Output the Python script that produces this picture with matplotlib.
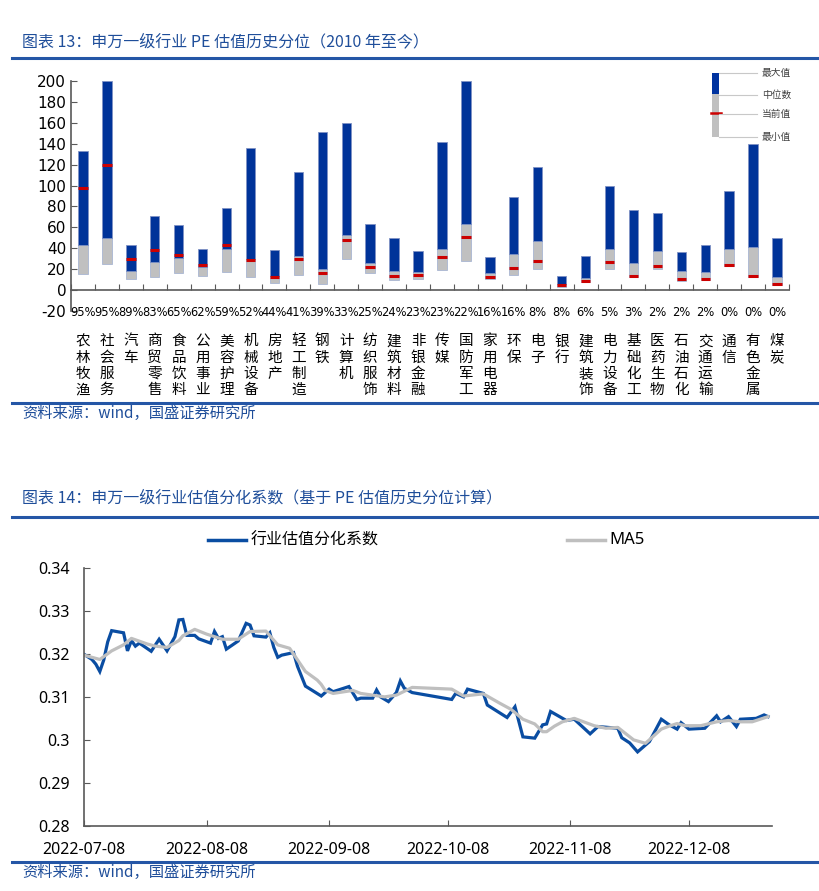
import matplotlib
matplotlib.use('Agg')
import matplotlib.pyplot as plt
import matplotlib.dates as mdates
from matplotlib.patches import Rectangle
from matplotlib.lines import Line2D
import numpy as np
import pandas as pd

plt.rcParams['font.family'] = ['Noto Sans CJK SC', 'DejaVu Sans']
plt.rcParams['axes.unicode_minus'] = False

# ---------------- 图表13 数据 ----------------
industries = ['农林牧渔', '社会服务', '汽车', '商贸零售', '食品饮料', '公用事业', '美容护理',
              '机械设备', '房地产', '轻工制造', '钢铁', '计算机', '纺织服饰', '建筑材料',
              '非银金融', '传媒', '国防军工', '家用电器', '环保', '电子', '银行', '建筑装饰',
              '电力设备', '基础化工', '医药生物', '石油石化', '交通运输', '通信', '有色金属', '煤炭']
pct_labels = ['95%', '95%', '89%', '83%', '65%', '62%', '59%', '52%', '44%', '41%', '39%',
              '33%', '25%', '24%', '23%', '23%', '22%', '16%', '16%', '8%', '8%', '6%', '5%',
              '3%', '2%', '2%', '2%', '0%', '0%', '0%']
pe_max = [133, 200, 43, 71, 62, 39.5, 79, 136, 38, 113, 151, 160, 63, 50, 37.5,
          142, 200, 32, 89, 118, 13.5, 33, 99.5, 76.5, 74, 36, 43, 95, 140, 50]
pe_median = [43, 49.5, 18.5, 26.5, 30.6, 22.3, 39.2, 29.7, 13.4, 32.9, 20, 52.3, 26.2, 18.5, 17.2,
             39.5, 62.8, 16, 35, 46.9, 6, 11.8, 39.2, 25.8, 37.3, 17.9, 17.2, 39.2, 41.5, 12.1]
pe_current = [98, 120, 30, 38, 33.8, 24, 43.4, 28.7, 12.4, 30, 16, 47.8, 22.3, 13.4, 14.4,
              31.6, 50.7, 12.8, 21, 28, 4.5, 8.6, 26.5, 13.4, 22.7, 10.2, 10.8, 23.6, 13.4, 5.7]
pe_min = [15, 25, 10.5, 12.8, 16.6, 13.7, 16.9, 12.8, 7, 14.4, 5.7, 29.3, 16.6, 9.9, 10.8,
          19.4, 28, 10.2, 14.7, 20, 3.2, 7.3, 20, 12.5, 20, 8.9, 9.9, 22.6, 12.8, 4.8]

# ---------------- 图表14 数据 ----------------
coef_dates = ['2022-07-08', '2022-07-10', '2022-07-11', '2022-07-12', '2022-07-13', '2022-07-14',
              '2022-07-15', '2022-07-18', '2022-07-19', '2022-07-20', '2022-07-21', '2022-07-22',
              '2022-07-25', '2022-07-27', '2022-07-29', '2022-07-31', '2022-08-01', '2022-08-02',
              '2022-08-03', '2022-08-05', '2022-08-06', '2022-08-09', '2022-08-10', '2022-08-11',
              '2022-08-12', '2022-08-13', '2022-08-16', '2022-08-18', '2022-08-19', '2022-08-20',
              '2022-08-23', '2022-08-24', '2022-08-25', '2022-08-26', '2022-08-27', '2022-08-30',
              '2022-08-31', '2022-09-02', '2022-09-06', '2022-09-07', '2022-09-08', '2022-09-09',
              '2022-09-13', '2022-09-15', '2022-09-16', '2022-09-19', '2022-09-20', '2022-09-21',
              '2022-09-23', '2022-09-25', '2022-09-26', '2022-09-27', '2022-09-29', '2022-10-09',
              '2022-10-10', '2022-10-12', '2022-10-13', '2022-10-17', '2022-10-18', '2022-10-23',
              '2022-10-25', '2022-10-27', '2022-10-30', '2022-11-01', '2022-11-02', '2022-11-03',
              '2022-11-07', '2022-11-09', '2022-11-13', '2022-11-15', '2022-11-20', '2022-11-21',
              '2022-11-23', '2022-11-25', '2022-11-28', '2022-12-01', '2022-12-03', '2022-12-05',
              '2022-12-06', '2022-12-08', '2022-12-12', '2022-12-15', '2022-12-16', '2022-12-18',
              '2022-12-20', '2022-12-21', '2022-12-25', '2022-12-27', '2022-12-28']
coef_vals = [0.3200, 0.3188, 0.3177, 0.3160, 0.3187, 0.3229, 0.3255, 0.3250, 0.3208, 0.3232,
             0.3219, 0.3226, 0.3207, 0.3235, 0.3208, 0.3241, 0.3280, 0.3281, 0.3244, 0.3244,
             0.3236, 0.3226, 0.3253, 0.3237, 0.3241, 0.3212, 0.3231, 0.3272, 0.3268, 0.3243,
             0.3240, 0.3250, 0.3216, 0.3193, 0.3198, 0.3204, 0.3172, 0.3126, 0.3103, 0.3111,
             0.3119, 0.3113, 0.3125, 0.3095, 0.3098, 0.3098, 0.3117, 0.3101, 0.3090, 0.3111,
             0.3138, 0.3121, 0.3111, 0.3095, 0.3109, 0.3101, 0.3119, 0.3109, 0.3082, 0.3053,
             0.3078, 0.3008, 0.3005, 0.3036, 0.3038, 0.3067, 0.3046, 0.3049, 0.3015, 0.3032,
             0.3028, 0.3006, 0.2994, 0.2973, 0.2997, 0.3049, 0.3036, 0.3026, 0.3041, 0.3026,
             0.3028, 0.3057, 0.3043, 0.3055, 0.3032, 0.3049, 0.3051, 0.3059, 0.3055]

ma5_dates = ['2022-07-08', '2022-07-12', '2022-07-15', '2022-07-18', '2022-07-20', '2022-07-24',
             '2022-07-26', '2022-07-29', '2022-08-01', '2022-08-02', '2022-08-05', '2022-08-08',
             '2022-08-12', '2022-08-16', '2022-08-19', '2022-08-23', '2022-08-26', '2022-08-29',
             '2022-08-31', '2022-09-02', '2022-09-05', '2022-09-06', '2022-09-07', '2022-09-09',
             '2022-09-14', '2022-09-16', '2022-09-19', '2022-09-22', '2022-09-25', '2022-09-29',
             '2022-10-09', '2022-10-12', '2022-10-17', '2022-10-21', '2022-10-24', '2022-10-27',
             '2022-10-30', '2022-11-01', '2022-11-02', '2022-11-04', '2022-11-06', '2022-11-09',
             '2022-11-14', '2022-11-17', '2022-11-20', '2022-11-24', '2022-11-27', '2022-12-01',
             '2022-12-03', '2022-12-05', '2022-12-07', '2022-12-11', '2022-12-15', '2022-12-18',
             '2022-12-21', '2022-12-24', '2022-12-28']
ma5_vals = [0.3198, 0.3188, 0.3208, 0.3222, 0.3237, 0.3224, 0.3219, 0.3216, 0.3232, 0.3243,
            0.3258, 0.3247, 0.3235, 0.3235, 0.3253, 0.3254, 0.3222, 0.3214, 0.3187, 0.3160,
            0.3140, 0.3130, 0.3116, 0.3109, 0.3116, 0.3109, 0.3105, 0.3101, 0.3105, 0.3123,
            0.3119, 0.3103, 0.3108, 0.3087, 0.3072, 0.3049, 0.3038, 0.3020, 0.3020, 0.3033,
            0.3043, 0.3051, 0.3034, 0.3028, 0.3030, 0.3001, 0.2993, 0.3026, 0.3033, 0.3039,
            0.3034, 0.3034, 0.3043, 0.3046, 0.3043, 0.3043, 0.3055]

date_ticks = ['2022-07-08', '2022-08-08', '2022-09-08', '2022-10-08', '2022-11-08', '2022-12-08']

BLUE_TXT = '#1F4E9A'
RULE = '#2456A6'
W, H = 819, 891


def fx(px):
    return px / W


def fy(py):
    return 1 - py / H


fig = plt.figure(figsize=(8.19, 8.91), dpi=100)

# 标题和分隔线
fig.text(fx(22), fy(42), '图表 13：申万一级行业 PE 估值历史分位（2010 年至今）',
         color=BLUE_TXT, fontsize=11.5, va='center')
fig.add_artist(Line2D([fx(12), 1], [fy(58), fy(58)], color=RULE, lw=2.2))
fig.add_artist(Line2D([fx(12), 1], [fy(403), fy(403)], color=RULE, lw=2.2))
fig.text(fx(22), fy(413), '资料来源：wind，国盛证券研究所', color=BLUE_TXT, fontsize=11, va='center')

fig.text(fx(22), fy(498), '图表 14：申万一级行业估值分化系数（基于 PE 估值历史分位计算）',
         color=BLUE_TXT, fontsize=11.5, va='center')
fig.add_artist(Line2D([fx(12), 1], [fy(517), fy(517)], color=RULE, lw=2.2))
fig.add_artist(Line2D([fx(12), 1], [fy(862), fy(862)], color=RULE, lw=2.2))
fig.text(fx(22), fy(872), '资料来源：wind，国盛证券研究所', color=BLUE_TXT, fontsize=11, va='center')

# ---------------- 上图：分位柱 ----------------
ax1 = fig.add_axes([fx(71), fy(311), fx(789 - 71), (311 - 81) / H])
x = np.arange(len(industries))
bw = 0.39
mx = np.array(pe_max)
md = np.array(pe_median)
cur = np.array(pe_current)
mn = np.array(pe_min)

ax1.bar(x, md - mn, bottom=mn, width=bw, color='#C0C0C0', edgecolor='#A9B6D3', linewidth=0.6)
ax1.bar(x, mx - md, bottom=md, width=bw, color='#003399', edgecolor='#7F92C4', linewidth=0.6)
ax1.hlines(cur, x - bw / 2, x + bw / 2, color='#CC0000', lw=2.2, zorder=3)

ax1.set_xlim(-0.5, len(industries) - 0.5)
ax1.set_ylim(-20, 200)
ax1.set_yticks(np.arange(-20, 201, 20))
ax1.tick_params(axis='y', direction='in', length=4, labelsize=11, color='#595959')
for lab in ax1.get_yticklabels():
    lab.set_family('DejaVu Sans')
ax1.spines['top'].set_visible(False)
ax1.spines['right'].set_visible(False)
ax1.spines['bottom'].set_position(('data', 0))
ax1.spines['left'].set_color('#595959')
ax1.spines['bottom'].set_color('#595959')
ax1.spines['left'].set_linewidth(1.2)
ax1.spines['bottom'].set_linewidth(1.2)
ax1.set_xticks(np.arange(-0.5, len(industries), 1.0))
ax1.set_xticklabels([])
ax1.tick_params(axis='x', direction='in', length=4, color='#595959')

for i, (name, p) in enumerate(zip(industries, pct_labels)):
    ax1.text(i, -21.3, p, ha='center', va='center', fontsize=8.3, family='DejaVu Sans')
    for j, ch in enumerate(name):
        ax1.text(i, -49 - j * 15.6, ch, ha='center', va='center', fontsize=10.5)

# 图例
fig.add_artist(Rectangle((fx(712), fy(94.3)), fx(7.3), (94.3 - 72.7) / H,
                         facecolor='#0033A0', edgecolor='none'))
fig.add_artist(Rectangle((fx(712), fy(136.7)), fx(7.3), (136.7 - 94.3) / H,
                         facecolor='#C0C0C0', edgecolor='none'))
fig.add_artist(Line2D([fx(711), fx(720.5)], [fy(113.3), fy(113.3)], color='#CC0000', lw=1.8))
for yy, lab in zip([73.3, 94.8, 113.8, 136.7], ['最大值', '中位数', '当前值', '最小值']):
    fig.add_artist(Line2D([fx(719.3), fx(757)], [fy(yy), fy(yy)], color='#C8C8C8', lw=0.8))
    fig.text(fx(762), fy(yy), lab, fontsize=7, va='center', color='#404040')

# ---------------- 下图：分化系数 ----------------
ax2 = fig.add_axes([fx(84), fy(826.3), fx(772 - 84), (826.3 - 568.3) / H])
d1 = pd.to_datetime(coef_dates)
d2 = pd.to_datetime(ma5_dates)
ax2.plot(d1, coef_vals, color='#0A4DA2', lw=2.3, solid_joinstyle='miter')
ax2.plot(d2, ma5_vals, color='#BFBFBF', lw=2.3)

ax2.set_xlim(pd.Timestamp('2022-07-08'), pd.Timestamp('2022-12-29'))
ax2.set_ylim(0.28, 0.34)
yt = [0.28, 0.29, 0.30, 0.31, 0.32, 0.33, 0.34]
ax2.set_yticks(yt)
ax2.set_yticklabels(['0.28', '0.29', '0.3', '0.31', '0.32', '0.33', '0.34'])
ax2.set_xticks(pd.to_datetime(date_ticks))
ax2.xaxis.set_major_formatter(mdates.DateFormatter('%Y-%m-%d'))
ax2.tick_params(axis='both', direction='in', length=4, labelsize=11.5, color='#595959')
ax2.tick_params(axis='x', pad=11)
ax2.tick_params(axis='y', pad=10.5)
for lab in ax2.get_xticklabels() + ax2.get_yticklabels():
    lab.set_family('Noto Sans')
ax2.spines['top'].set_visible(False)
ax2.spines['right'].set_visible(False)
ax2.spines['left'].set_color('#595959')
ax2.spines['bottom'].set_color('#595959')
ax2.spines['left'].set_linewidth(1.2)
ax2.spines['bottom'].set_linewidth(1.2)

# 下图图例
fig.add_artist(Line2D([fx(208), fx(246)], [fy(540), fy(540)], color='#0A4DA2', lw=2.5))
fig.text(fx(251), fy(540), '行业估值分化系数', fontsize=11.5, va='center')
fig.add_artist(Line2D([fx(567), fx(605)], [fy(540), fy(540)], color='#BFBFBF', lw=2.5))
fig.text(fx(609), fy(540), 'MA5', fontsize=12, va='center', family='Noto Sans')

fig.savefig('out.png', dpi=100)
